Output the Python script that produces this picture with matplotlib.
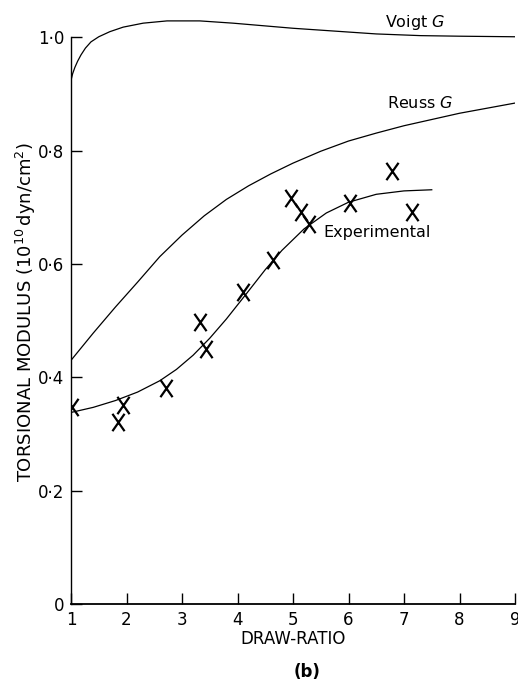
import matplotlib.pyplot as plt
from matplotlib.path import Path

# Voigt and Reuss bounds for the shear modulus, and the experimental fit
voigt_x = [1.0, 1.03, 1.07, 1.12, 1.18, 1.26, 1.36, 1.5, 1.7, 1.94, 2.3, 2.73, 3.32, 3.92, 4.4, 5.0,
           5.6, 6.5, 7.3, 8.0, 9.0]
voigt_g = [0.924, 0.936, 0.947, 0.958, 0.969, 0.981, 0.992, 1.001, 1.010, 1.018, 1.025, 1.029, 1.029,
           1.025, 1.021, 1.016, 1.012, 1.006, 1.003, 1.002, 1.001]

reuss_x = [1.0, 1.4, 1.8, 2.2, 2.6, 3.0, 3.4, 3.8, 4.2, 4.6, 5.0, 5.5, 6.0, 6.5, 7.0, 7.5, 8.0, 8.5, 9.0]
reuss_g = [0.430, 0.478, 0.524, 0.568, 0.613, 0.651, 0.685, 0.714, 0.738, 0.759, 0.778, 0.799, 0.817,
           0.831, 0.844, 0.855, 0.866, 0.875, 0.884]

fit_x = [1.0, 1.4, 1.8, 2.2, 2.6, 2.9, 3.2, 3.5, 3.8, 4.14, 4.5, 4.8, 5.2, 5.6, 6.0, 6.5, 7.0, 7.5]
fit_g = [0.338, 0.347, 0.359, 0.374, 0.394, 0.414, 0.439, 0.469, 0.503, 0.545, 0.590, 0.624, 0.662,
         0.690, 0.709, 0.723, 0.729, 0.731]

# measured torsional modulus
draw_ratio = [1.02, 1.85, 1.94, 2.71, 3.32, 3.43, 4.10, 4.64, 4.96, 5.14, 5.29, 6.03, 6.78, 7.14]
modulus = [0.347, 0.321, 0.351, 0.381, 0.497, 0.450, 0.550, 0.607, 0.716, 0.691, 0.670, 0.707, 0.765, 0.691]

x_ticks = [1, 2, 3, 4, 5, 6, 7, 8, 9]
y_ticks = [0, 0.2, 0.4, 0.6, 0.8, 1.0]
y_labels = ["0", "0·2", "0·4", "0·6", "0·8", "1·0"]

# tall, narrow cross like a typed letter X
cross = Path([(-0.7, -1), (0.7, 1), (-0.7, 1), (0.7, -1)],
             [Path.MOVETO, Path.LINETO, Path.MOVETO, Path.LINETO])

fig = plt.figure(figsize=(5.18, 6.83), dpi=100)
ax = fig.add_axes([71 / 518, 79 / 683, 444 / 518, 595 / 683])

ax.plot(voigt_x, voigt_g, color="black", lw=0.9)
ax.plot(reuss_x, reuss_g, color="black", lw=0.9)
ax.plot(fit_x, fit_g, color="black", lw=0.9)
ax.plot(draw_ratio, modulus, linestyle="none", marker=cross, markersize=12.5,
        markeredgewidth=1.6, markeredgecolor="black", markerfacecolor="none")

ax.text(6.66, 1.018, "Voigt $G$", fontsize=11.5, ha="left", va="baseline")
ax.text(6.69, 0.875, "Reuss $G$", fontsize=11.5, ha="left", va="baseline")
ax.text(5.54, 0.647, "Experimental", fontsize=11.5, ha="left", va="baseline")

ax.set_xlim(1, 9)
ax.set_ylim(0, 1.05)
ax.set_xticks(x_ticks)
ax.set_yticks(y_ticks)
ax.set_yticklabels(y_labels)
ax.tick_params(direction="in", length=8, width=1, labelsize=12, pad=5)
ax.tick_params(axis="x", pad=5)

for side in ["top", "right"]:
    ax.spines[side].set_visible(False)
ax.spines["left"].set_bounds(0, 1.0)
ax.spines["left"].set_linewidth(1.0)
ax.spines["bottom"].set_linewidth(1.3)

ax.set_xlabel("DRAW-RATIO", fontsize=12, labelpad=1)
fig.text(26 / 518, 1 - 312 / 683, r"TORSIONAL MODULUS $(10^{10}\,\mathrm{dyn/cm^2})$",
         rotation=90, ha="center", va="center", fontsize=13)
fig.text(307 / 518, 1 - 672 / 683, "(b)", ha="center", va="center", fontsize=12, fontweight="bold")

fig.savefig("out.png", dpi=100)
